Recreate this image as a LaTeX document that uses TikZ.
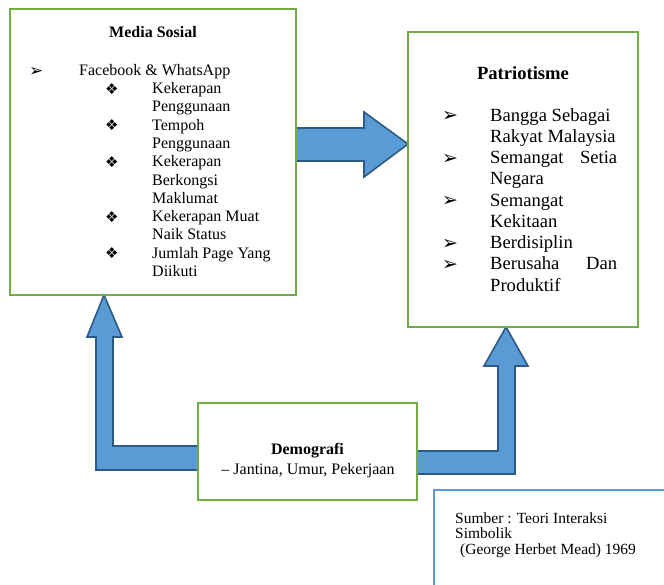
\documentclass[tikz,border=0pt]{standalone}
\usepackage{fontspec}
\setmainfont{Liberation Serif}
\newfontfamily\dingfont{DejaVu Sans}
\usetikzlibrary{calc, backgrounds}
\definecolor{boxgreen}{HTML}{70AD47}
\definecolor{arrowfill}{HTML}{5B9BD5}
\definecolor{arrowline}{HTML}{2C5A86}
\definecolor{srcblue}{HTML}{5B9BD5}

\begin{document}
\begin{tikzpicture}[
    x=1pt, y=-1pt,
    panel/.style={rectangle, draw=boxgreen, line width=2.2pt, inner sep=0pt, outer sep=0pt, anchor=north west},
    srcbox/.style={rectangle, draw=srcblue, line width=1.8pt, inner sep=0pt, outer sep=0pt, anchor=north west},
    blockarr/.style={fill=arrowfill, draw=arrowline, line width=1.6pt, line join=miter},
    txt/.style={inner sep=0pt, anchor=base west, font=\fontsize{16}{18}\selectfont},
    bigtxt/.style={inner sep=0pt, anchor=base west, font=\fontsize{18.6}{21}\selectfont},
    head/.style={inner sep=0pt, anchor=base, font=\fontsize{16}{18}\selectfont\bfseries},
    arrbullet/.style={inner sep=0pt, anchor=base west, font=\dingfont\fontsize{#1}{#1}\selectfont},
    arrbullet/.default=17,
    diabullet/.style={inner sep=0pt, anchor=base west, font=\dingfont\fontsize{15}{15}\selectfont},
]
\useasboundingbox (0,0) rectangle (664,584);
\clip (0,0) rectangle (664,584);

% boxes
\node[panel, minimum width=286, minimum height=286] (media) at (10,9) {};
\node[panel, minimum width=230, minimum height=295] (patri) at (408,32) {};
\node[panel, minimum width=219, minimum height=97] (demo) at (198,403) {};
\node[srcbox, minimum width=260, minimum height=120] (src) at (434,490) {};

% media sosial
\node[head] (mtitle) at (153,37) {Media Sosial};
\node[arrbullet] (mb) at (29,76) {➢};
\node[txt] (fb) at (79,75.5) {Facebook \& WhatsApp};
\foreach \ln [count=\i from 0] in {Kekerapan, Penggunaan, Tempoh, Penggunaan, Kekerapan, Berkongsi, Maklumat, Kekerapan Muat, Naik Status, Jumlah Page Yang, Diikuti}
  \node[txt] (m\i) at (152, 93.5+18.3*\i) {\ln};
\foreach \i in {0,2,4,7,9}
  \node[diabullet] (md\i) at (105, 94+18.3*\i) {❖};

% patriotisme
\node[head, font=\fontsize{18.6}{21}\selectfont\bfseries] (ptitle) at (523,79) {Patriotisme};
\foreach \ln [count=\i from 0] in {Bangga Sebagai, Rakyat Malaysia, \makebox[127pt][s]{Semangat Setia}, Negara, Semangat, Kekitaan, Berdisiplin, \makebox[127pt][s]{Berusaha Dan}, Produktif}
  \node[bigtxt] (p\i) at (490, 121+21.25*\i) {\ln};
\foreach \i in {0,2,4,6,7}
  \node[arrbullet=19] (pb\i) at (442, 121.5+21.25*\i) {➢};

% demografi
\node[head] (dtitle) at (307.5,454.5) {Demografi};
\node[txt, anchor=base] (dsub) at (308,474) {– Jantina, Umur, Pekerjaan};

% sumber
\node[txt, font=\fontsize{15.5}{16}\selectfont] (s1) at (455,523) {Sumber : Teori Interaksi};
\node[txt, font=\fontsize{15.5}{16}\selectfont] (s2) at (455,538.5) {Simbolik};
\node[txt, font=\fontsize{15.5}{16}\selectfont] (s3) at (460,554) {(George Herbet Mead) 1969};

% block arrows
\begin{scope}[on background layer]
\draw[blockarr] (media.east |- 0,128) -- (364,128) -- (364,112) -- (patri.west |- 0,144)
  -- (364,177) -- (364,161) -- (media.east |- 0,161) -- cycle;
\draw[blockarr] (demo.west |- 0,446) -- (113,446) -- (113,337) -- (122,337) -- (104,0 |- media.south)
  -- (87,337) -- (96,337) -- (96,470) -- (demo.west |- 0,470) -- cycle;
\draw[blockarr] (demo.east |- 0,451) -- (498,451) -- (498,366) -- (484,366) -- (506,0 |- patri.south)
  -- (528,366) -- (515,366) -- (515,474) -- (demo.east |- 0,474) -- cycle;
\end{scope}
\end{tikzpicture}
\end{document}
